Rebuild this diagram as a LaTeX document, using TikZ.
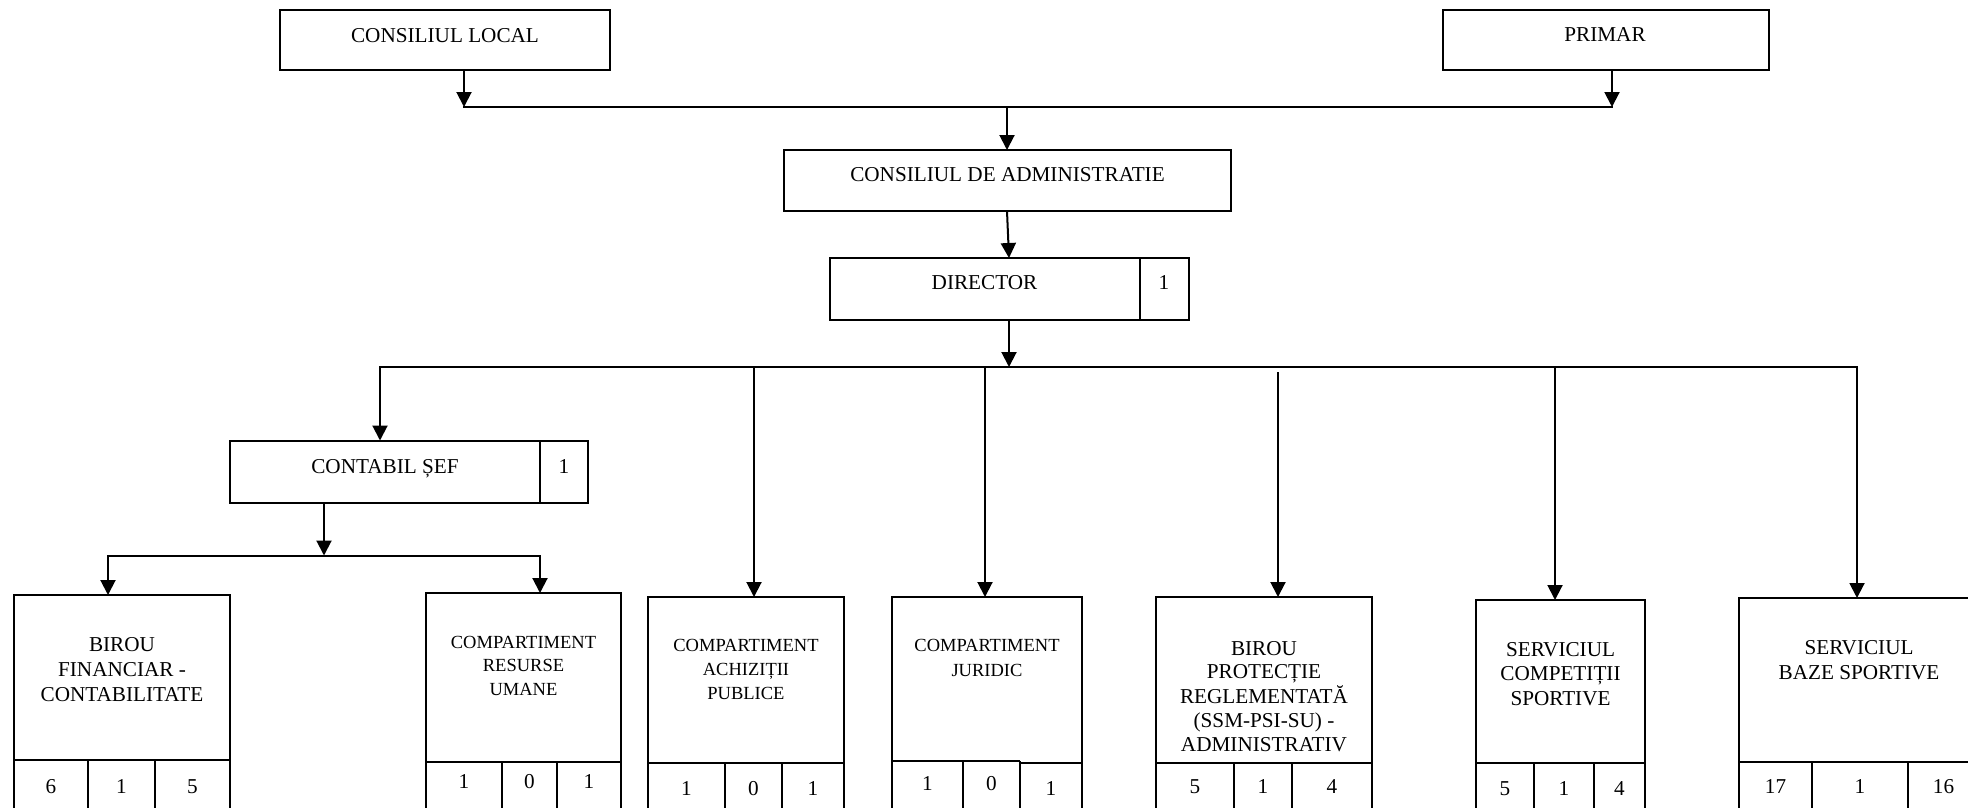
\documentclass[tikz,border=0pt]{standalone}
\usepackage{fontspec}
\setmainfont{Liberation Serif}
\usetikzlibrary{arrows.meta}
\newcommand\bigf{\fontsize{21.2}{25}\selectfont}
\newcommand\smallf{\fontsize{18.5}{23.5}\selectfont}
\newcommand\bx[5]{\node[box, minimum width=#4pt, minimum height=#5pt] (#1) at (#2,#3) {};}
\newcommand\ml[1]{\begin{tabular}[t]{@{}c@{}}#1\end{tabular}}
\begin{document}
\begin{tikzpicture}[x=1pt,y=-1pt,
  box/.style={draw, line width=2pt, inner sep=0pt, outer sep=0pt},
  ln/.style={line width=2pt, line cap=rect},
  arr/.style={-{Triangle[width=15pt,length=15pt]}, line width=2pt},
  lbl/.style={anchor=base, inner sep=0pt, font=\bigf},
  slbl/.style={anchor=base, inner sep=0pt, font=\smallf}]
\useasboundingbox (0,0) rectangle (1968,807);
\clip (0,0) rectangle (1968,807);
% boxes
\bx{cl}{445}{40}{330}{60}
\bx{pr}{1606}{40}{326}{60}
\bx{cda}{1007}{180.5}{447}{61}
\bx{dir}{1009}{289}{359}{62}
\bx{cs}{409}{471.5}{358}{62}
\bx{bf}{122}{707.5}{216}{225}
\bx{cru}{523.5}{706.5}{195}{227}
\bx{cap}{746}{708.5}{196}{223}
\bx{cj}{987}{708.5}{190}{223}
\bx{bpr}{1264}{708.5}{216}{223}
\bx{scs}{1560.5}{710}{169}{220}
\bx{sbs}{1859}{709}{240}{222}
% inner dividers
\draw[line width=2pt] (1140,258) -- (1140,320);
\draw[line width=2pt] (540,440.5) -- (540,502.5);
\draw[line width=2pt] (14,760) -- (230,760) (88,760) -- (88,820) (155,760) -- (155,820);
\draw[line width=2pt] (426,762) -- (621,762) (502,762) -- (502,820) (557,762) -- (557,820);
\draw[line width=2pt] (648,763) -- (844,763) (725,763) -- (725,820) (782,763) -- (782,820);
\draw[line width=2pt] (892,761) -- (1020,761) (1020,763) -- (1082,763) (963,761) -- (963,820) (1020,761) -- (1020,820);
\draw[line width=2pt] (1156,763) -- (1372,763) (1234,763) -- (1234,820) (1292,763) -- (1292,820);
\draw[line width=2pt] (1476,763) -- (1645,763) (1534,763) -- (1534,820) (1594,763) -- (1594,820);
\draw[line width=2pt] (1739,762) -- (1979,762) (1812,762) -- (1812,820) (1908,762) -- (1908,820);
% texts
\node[lbl] (tcl) at (445,42) {CONSILIUL LOCAL};
\node[lbl] (tpr) at (1605,41) {PRIMAR};
\node[lbl] (tcda) at (1007.5,181) {CONSILIUL DE ADMINISTRATIE};
\node[lbl] (tdir) at (984.5,289) {DIRECTOR};
\node[lbl] (ndir) at (1164,289) {1};
\node[lbl] (tcs) at (385,473) {CONTABIL ȘEF};
\node[lbl] (ncs) at (564,473) {1};
\node[lbl] (tbf) at (122,651) {\ml{BIROU\\FINANCIAR -\\CONTABILITATE}};
\node[slbl] (tcru) at (523.5,648) {\ml{COMPARTIMENT\\RESURSE\\UMANE}};
\node[slbl, font=\fontsize{18.5}{24}\selectfont] (tcap) at (746,651) {\ml{COMPARTIMENT\\ACHIZIȚII\\PUBLICE}};
\node[slbl, font=\fontsize{18.5}{25}\selectfont] (tcj) at (987,651) {\ml{COMPARTIMENT\\JURIDIC}};
\node[lbl, font=\fontsize{21.2}{23.7}\selectfont] (tbpr) at (1264,655) {\ml{BIROU\\PROTECȚIE\\REGLEMENTATĂ\\(SSM-PSI-SU) -\\ADMINISTRATIV}};
\node[lbl, font=\fontsize{21.2}{24.5}\selectfont] (tscs) at (1560.5,656) {\ml{SERVICIUL\\COMPETIȚII\\SPORTIVE}};
\node[lbl] (tsbs) at (1859,654) {\ml{SERVICIUL\\BAZE SPORTIVE}};
% cell numbers
\node[lbl] (n1) at (51,793) {6};
\node[lbl] (n2) at (121.5,793) {1};
\node[lbl] (n3) at (192.5,793) {5};
\node[lbl] (n4) at (464,788) {1};
\node[lbl] (n5) at (529.5,788) {0};
\node[lbl] (n6) at (589,788) {1};
\node[lbl] (n7) at (686.5,795) {1};
\node[lbl] (n8) at (753.5,795) {0};
\node[lbl] (n9) at (813,795) {1};
\node[lbl] (n10) at (927.5,790) {1};
\node[lbl] (n11) at (991.5,790) {0};
\node[lbl] (n12) at (1051,795) {1};
\node[lbl] (n13) at (1195,793) {5};
\node[lbl] (n14) at (1263,793) {1};
\node[lbl] (n15) at (1332,793) {4};
\node[lbl] (n16) at (1505,795) {5};
\node[lbl] (n17) at (1564,795) {1};
\node[lbl] (n18) at (1619.5,795) {4};
\node[lbl] (n19) at (1775.5,793) {17};
\node[lbl] (n20) at (1860,793) {1};
\node[lbl] (n21) at (1943.5,793) {16};
% connectors
\coordinate (j1) at (464,107);
\coordinate (j2) at (1612,107);
\coordinate (jm) at (1007,107);
\draw[arr] (cl.south -| j1) -- (j1);
\draw[arr] (pr.south -| j2) -- (j2);
\draw[ln] (j1) -- (j2);
\draw[arr] (jm) -- (cda.north);
\draw[arr] (cda.south) -- (dir.north);
\coordinate (h0) at (380,367);
\coordinate (h1) at (1857,367);
\coordinate (hcap) at (754,367);
\coordinate (hcj) at (985,367);
\coordinate (hbpr) at (1278,372);
\coordinate (hscs) at (1555,367);
\draw[arr] (dir.south) -- (dir.south |- h0);
\draw[ln] (h0) -- (h1);
\draw[arr] (h0) -- (h0 |- cs.north);
\draw[arr] (hcap) -- (hcap |- cap.north);
\draw[arr] (hcj) -- (hcj |- cj.north);
\draw[arr] (hbpr) -- (hbpr |- bpr.north);
\draw[arr] (hscs) -- (hscs |- scs.north);
\draw[arr] (h1) -- (h1 |- sbs.north);
\coordinate (km) at (324,555.5);
\coordinate (k0) at (108,555.5);
\coordinate (k1) at (540,555.5);
\draw[arr] (cs.south -| km) -- (km);
\draw[ln] (k0) -- (k1);
\draw[arr] (k0) -- (k0 |- bf.north);
\draw[arr] (k1) -- (k1 |- cru.north);
\end{tikzpicture}
\end{document}
